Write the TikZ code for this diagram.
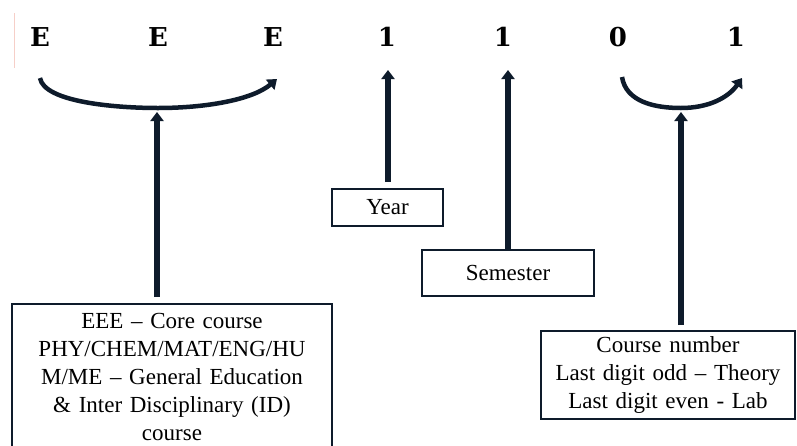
\documentclass[tikz,border=0pt]{standalone}
\usepackage{fontspec}
\setmainfont{Liberation Serif}
\newfontfamily\digitfont{DejaVu Serif}
\usetikzlibrary{arrows.meta}
\definecolor{ink}{HTML}{0E1B2B}
\definecolor{cursor}{HTML}{F6CFC8}
\begin{document}
\begin{tikzpicture}[x=1pt,y=-1pt,
  digit/.style={font=\digitfont\fontsize{26}{28}\selectfont\bfseries, inner sep=0pt, text=black},
  box/.style={draw=ink, line width=1.6pt, align=center, font=\fontsize{23}{28}\selectfont, inner sep=0pt},
  arr/.style={draw=ink, line width=5.5pt, -{Triangle[length=9pt,width=13pt]}},
  carc/.style={draw=ink, line width=4.5pt, line cap=butt, -{Triangle[length=9pt,width=13pt]}}]
\useasboundingbox (0,0) rectangle (797,445);
\clip (0,0) rectangle (797,445);
% cursor mark
\draw[cursor, line width=1pt] (14,13) -- (14,68);
% digits
\node[digit] (e1) at (40,37) {E};
\node[digit] (e2) at (158,37) {E};
\node[digit] (e3) at (273,37) {E};
\node[digit] (y1) at (387,37) {1};
\node[digit] (s1) at (503,37) {1};
\node[digit] (d0) at (618,37) {0};
\node[digit] (d1) at (736,37) {1};
% arcs
\coordinate (la) at (40,78);
\coordinate (lb) at (158,108);
\coordinate (lc) at (277,79);
\draw[carc] (la) .. controls (44,102) and (115,108) .. (lb) .. controls (205,108) and (252,100) .. (lc);
\coordinate (ra) at (622,77);
\coordinate (rb) at (681,108);
\coordinate (rc) at (742,78);
\draw[carc] (ra) .. controls (626,102) and (655,108) .. (rb) .. controls (708,108) and (728,98) .. (rc);
% boxes
\node[box, minimum width=320pt, minimum height=160pt, anchor=north, text width=316pt] (core) at (172,303)
  {\rule{0pt}{0pt}\\[-26pt]EEE – Core course\\PHY/CHEM/MAT/ENG/HU\\M/ME – General Education\\\& Inter Disciplinary (ID)\\course\\[32pt]};
\node[box, minimum width=111pt, minimum height=37pt] (year) at (387.5,207.5) {Year};
\node[box, minimum width=172pt, minimum height=46pt] (sem) at (508,273) {Semester};
\node[box, minimum width=254pt, minimum height=88pt, text width=250pt] (num) at (668,375)
  {Course number\\Last digit odd – Theory\\Last digit even - Lab};
% targets
\coordinate (tl) at (157,112);
\coordinate (ty) at (388,70);
\coordinate (ts) at (508,70);
\coordinate (tr) at (681,112);
% arrows
\draw[arr] ([yshift=6pt]core.north -| tl) -- (tl);
\draw[arr] ([yshift=6pt]year.north -| ty) -- (ty);
\draw[arr] (sem.north -| ts) -- (ts);
\draw[arr] ([yshift=5pt]num.north -| tr) -- (tr);
\end{tikzpicture}
\end{document}
